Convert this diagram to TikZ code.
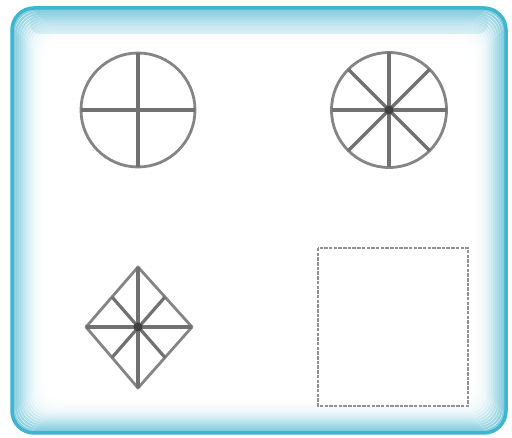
\documentclass[tikz,border=0pt]{standalone}
\usetikzlibrary{calc}
\definecolor{frameblue}{HTML}{3FB6CE}
\definecolor{glowblue}{HTML}{7FCBDE}
\definecolor{linegray}{HTML}{858585}
\tikzset{
  shapeline/.style={draw=linegray, line width=2.8pt},
  spoke/.style={draw=linegray!85!black, line width=3.2pt},
  dashbox/.style={draw=linegray!90, line width=1.8pt, dash pattern=on 3.5pt off 1.2pt},
  hubdot/.style={fill=black!75}
}
\begin{document}
\begin{tikzpicture}[x=1pt,y=-1pt]
\useasboundingbox (0,0) rectangle (512,438);
\fill[white] (0,0) rectangle (512,438);
% frame with inward glow
\foreach \i/\op in {0/1,2/0.95,4/0.85,6/0.75,8/0.65,10/0.55,12/0.45,14/0.36,16/0.28,18/0.21,20/0.15,22/0.1,24/0.07,26/0.045,28/0.025,30/0.01}{
  \draw[glowblue, opacity=\op, line width=2.2pt, rounded corners=22pt]
    (12+\i,8+\i) rectangle (506-\i,433-\i);
}
\fill[glowblue, opacity=0.25, rounded corners=10pt] (30,12) rectangle (488,34);
\draw[frameblue, line width=3.5pt, rounded corners=22pt] (12,8) rectangle (506,433);
% circle 1: four spokes
\coordinate (c1) at (138,110);
\draw[shapeline] (c1) circle (57);
\draw[spoke] ($(c1)+(-57,0)$) -- ($(c1)+(57,0)$);
\draw[spoke] ($(c1)+(0,-57)$) -- ($(c1)+(0,57)$);
% circle 2: eight spokes
\coordinate (c2) at (389,110);
\draw[shapeline] (c2) circle (57.5);
\foreach \a in {0,45,90,135}{
  \draw[spoke] ($(c2)+(\a:57.5)$) -- ($(c2)+(\a+180:57.5)$);
}
\fill[hubdot] (c2) circle (4.5);
% diamond
\coordinate (dc) at (138,327);
\coordinate (dt) at (138,267);
\coordinate (dr) at (192,327);
\coordinate (db) at (138,388);
\coordinate (dl) at (86,327);
\draw[shapeline, line join=round] (dt) -- (dr) -- (db) -- (dl) -- cycle;
\draw[spoke] (dt) -- (db);
\draw[spoke] (dl) -- (dr);
\draw[spoke] ($(dt)!0.5!(dl)$) -- ($(db)!0.5!(dr)$);
\draw[spoke] ($(dt)!0.5!(dr)$) -- ($(db)!0.5!(dl)$);
\fill[hubdot] (dc) circle (4.5);
% dashed square
\draw[dashbox] (318,248) rectangle (468,406);
\end{tikzpicture}
\end{document}
